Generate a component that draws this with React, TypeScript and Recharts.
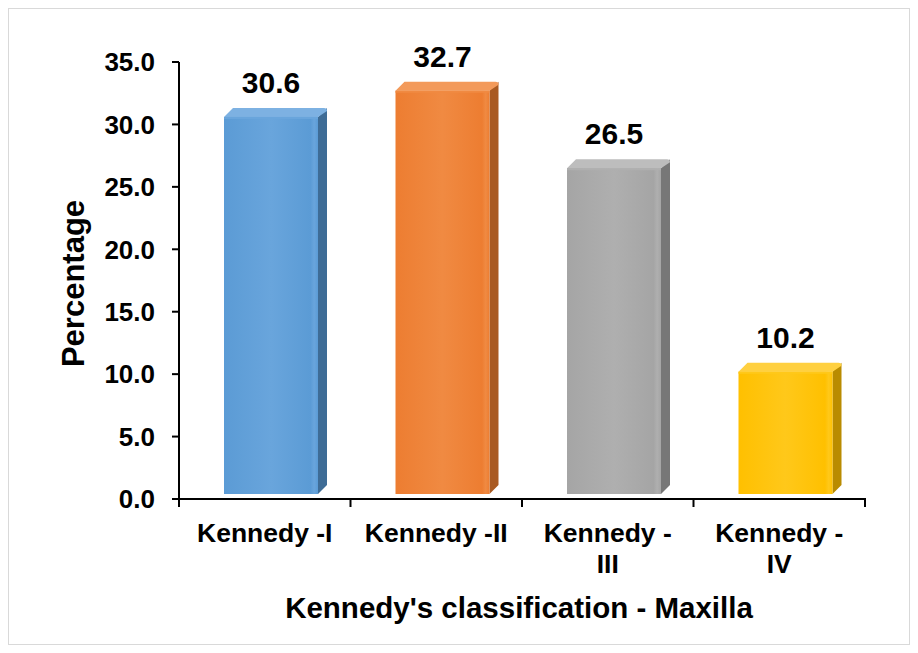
import React from "react";
import { BarChart, Bar, XAxis, YAxis, LabelList, Cell } from "recharts";

const categories = ["Kennedy -I", "Kennedy -II", "Kennedy -\nIII", "Kennedy -\nIV"];
const percentages = [30.6, 32.7, 26.5, 10.2];
const yTicks = [0, 5, 10, 15, 20, 25, 30, 35];

const palette = [
  { front: "#5B9BD5", light: "#69A5DC", top: "#7DB1E2", side: "#3E6C96" },
  { front: "#ED7D31", light: "#F08A42", top: "#F39A5A", side: "#A95A22" },
  { front: "#A5A5A5", light: "#AFAFAF", top: "#BDBDBD", side: "#777777" },
  { front: "#FFC000", light: "#FFC81A", top: "#FFD040", side: "#B98B00" },
];

const data = categories.map((c, i) => ({ name: c, value: percentages[i] }));

const FONT = '"Liberation Sans", Arial, Helvetica, sans-serif';

const Bar3D = (props: any) => {
  const { x, y, width, height, index } = props;
  const c = palette[index % palette.length];
  const d = 9;
  const dx = 6;
  const x0 = x + dx;
  const x1 = x0 + width;
  const yTop = y;
  const yBot = y + height - 5;
  const gid = `g-front-${index}`;
  return (
    <g>
      <defs>
        <linearGradient id={gid} x1="0" y1="0" x2="1" y2="0">
          <stop offset="0" stopColor={c.front} />
          <stop offset="0.5" stopColor={c.light} />
          <stop offset="0.92" stopColor={c.front} />
          <stop offset="0.96" stopColor={c.light} />
          <stop offset="1" stopColor={c.front} />
        </linearGradient>
      </defs>
      <path
        d={`M${x1},${yTop} L${x1 + d},${yTop - d} L${x1 + d},${yBot - d} L${x1},${yBot} Z`}
        fill={c.side}
      />
      <path
        d={`M${x0},${yTop} L${x0 + d},${yTop - d} L${x1 + d - 3},${yTop - d} Q${x1 + d},${yTop - d} ${x1 + d},${yTop - d + 3} L${x1},${yTop} Z`}
        fill={c.top}
      />
      <rect x={x0} y={yTop} width={width} height={Math.max(0, yBot - yTop)} fill={`url(#${gid})`} />
      <line x1={x0} y1={yTop + 1} x2={x1} y2={yTop + 1} stroke={c.light} strokeWidth={2} />
    </g>
  );
};

const ValueLabel = (props: any) => {
  const { x, y, width, value } = props;
  return (
    <text
      x={x + width / 2 + 6}
      y={y - 24}
      textAnchor="middle"
      fontFamily={FONT}
      fontWeight="bold"
      fontSize={30}
      fill="#000"
    >
      {Number(value).toFixed(1)}
    </text>
  );
};

const XTick = (props: any) => {
  const { x, y, payload, index } = props;
  const half = payload.offset || 0;
  const lines = String(payload.value).split("\n");
  return (
    <g>
      <line x1={x - half} y1={y - 1} x2={x - half} y2={y + 8} stroke="#000" strokeWidth={2} />
      {index === categories.length - 1 && (
        <line x1={x + half} y1={y - 1} x2={x + half} y2={y + 8} stroke="#000" strokeWidth={2} />
      )}
      <text
        x={x}
        y={y + 43}
        textAnchor="middle"
        fontFamily={FONT}
        fontWeight="bold"
        fontSize={26.5}
        fill="#000"
      >
        {lines.map((l, i) => (
          <tspan key={i} x={x} dy={i === 0 ? 0 : 31}>
            {l}
          </tspan>
        ))}
      </text>
    </g>
  );
};

const XTitle = (props: any) => {
  const { viewBox } = props;
  return (
    <text
      x={viewBox.x + viewBox.width / 2 - 3}
      y={viewBox.y + 119}
      textAnchor="middle"
      fontFamily={FONT}
      fontWeight="bold"
      fontSize={29.5}
      fill="#000"
    >
      Kennedy's classification - Maxilla
    </text>
  );
};

const YTitle = (props: any) => {
  const { viewBox } = props;
  const cx = viewBox.x + 64;
  const cy = viewBox.y + viewBox.height / 2 + 3;
  return (
    <text
      x={cx}
      y={cy}
      transform={`rotate(-90, ${cx}, ${cy})`}
      textAnchor="middle"
      dominantBaseline="central"
      fontFamily={FONT}
      fontWeight="bold"
      fontSize={31}
      fill="#000"
    >
      Percentage
    </text>
  );
};

export default function App() {
  return (
    <div
      style={{
        width: 900,
        height: 635,
        border: "1px solid #d9d9d9",
        background: "#fff",
      }}
    >
      <BarChart
        width={900}
        height={635}
        data={data}
        margin={{ top: 53, right: 44, bottom: 0, left: 0 }}
        barCategoryGap={0}
      >
        <XAxis
          dataKey="name"
          interval={0}
          tickLine={false}
          tickSize={0}
          tickMargin={0}
          axisLine={{ stroke: "#000", strokeWidth: 2 }}
          tick={<XTick />}
          height={145}
          label={<XTitle />}
        />
        <YAxis
          domain={[0, 35]}
          ticks={yTicks}
          interval={0}
          width={170}
          tickFormatter={(v: number) => v.toFixed(1)}
          axisLine={{ stroke: "#000", strokeWidth: 2 }}
          tickLine={{ stroke: "#000", strokeWidth: 2 }}
          tickSize={7}
          tickMargin={17}
          tick={{ fontFamily: FONT, fontWeight: "bold", fontSize: 26, fill: "#000" }}
          label={<YTitle />}
        />
        <Bar dataKey="value" barSize={94} isAnimationActive={false} shape={<Bar3D />}>
          {data.map((_, i) => (
            <Cell key={i} fill={palette[i].front} />
          ))}
          <LabelList dataKey="value" content={<ValueLabel />} />
        </Bar>
      </BarChart>
    </div>
  );
}
